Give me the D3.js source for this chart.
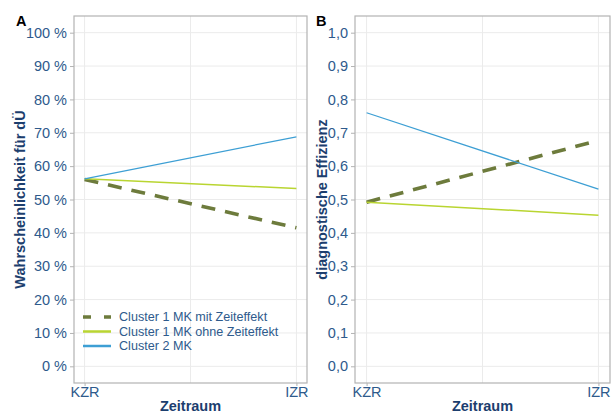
<!DOCTYPE html>
<html><head><meta charset="utf-8">
<script src="https://cdn.jsdelivr.net/npm/d3@7"></script>
<style>body{margin:0;background:#fff}svg{display:block;font-family:"Liberation Sans",Arial,sans-serif}</style>
</head><body><svg id="c" width="615" height="419"></svg>
<script>
const periods = ["KZR", "IZR"];
const seriesNames = ["Cluster 1 MK mit Zeiteffekt", "Cluster 1 MK ohne Zeiteffekt", "Cluster 2 MK"];
const probMit = [0.560, 0.415];
const probOhne = [0.562, 0.533];
const probC2 = [0.562, 0.688];
const effMit = [0.492, 0.677];
const effOhne = [0.492, 0.453];
const effC2 = [0.760, 0.531];
const yTicks = [0, 0.1, 0.2, 0.3, 0.4, 0.5, 0.6, 0.7, 0.8, 0.9, 1.0];

const colors = ["#6d7b3c", "#b9d531", "#3d9fd4"];
const widths = [3.6, 1.5, 1.3];
const dashes = ["14,10", null, null];

const svg = d3.select("#c");
const tickCol = "#2e5a8c", titleCol = "#1c3e6e";

function panel(opt) {
  const {x0, x1, y0, y1, series, fmt, ytitle, ytitleX, label, labelX} = opt;
  const x = d3.scaleLinear().domain([0.95, 2.05]).range([x0, x1]);
  const y = d3.scaleLinear().domain([-0.05, 1.05]).range([y1, y0]);
  const g = svg.append("g");
  g.selectAll(".gy").data(yTicks).join("line")
    .attr("x1", x0).attr("x2", x1).attr("y1", d => y(d)).attr("y2", d => y(d))
    .attr("stroke", "#ebebeb").attr("stroke-width", 1);
  g.selectAll(".gx").data([1, 1.5, 2]).join("line")
    .attr("y1", y0).attr("y2", y1).attr("x1", d => x(d)).attr("x2", d => x(d))
    .attr("stroke", "#ebebeb").attr("stroke-width", 1);
  const line = d3.line().x((d, i) => x(i + 1)).y(d => y(d));
  series.forEach((s, k) => {
    g.append("path").attr("d", line(s)).attr("fill", "none")
      .attr("stroke", colors[k]).attr("stroke-width", widths[k])
      .attr("stroke-dasharray", dashes[k]);
  });
  g.append("rect").attr("x", x0).attr("y", y0).attr("width", x1 - x0).attr("height", y1 - y0)
    .attr("fill", "none").attr("stroke", "#b3b3b3").attr("stroke-width", 1.2);
  const ya = g.append("g").attr("transform", `translate(${x0},0)`)
    .call(d3.axisLeft(y).tickValues(yTicks).tickFormat(fmt).tickSize(4).tickPadding(3));
  ya.select(".domain").remove();
  ya.selectAll("line").attr("stroke", "#b3b3b3");
  ya.selectAll("text").attr("fill", tickCol).attr("font-size", 14.5);
  const xa = g.append("g").attr("transform", `translate(0,${y1})`)
    .call(d3.axisBottom(x).tickValues([1, 2]).tickFormat((d, i) => periods[i]).tickSize(3).tickPadding(1));
  xa.select(".domain").remove();
  xa.selectAll("line").attr("stroke", "#b3b3b3");
  xa.selectAll("text").attr("fill", tickCol).attr("font-size", 14.5);
  g.append("text").attr("x", (x0 + x1) / 2).attr("y", 411).attr("text-anchor", "middle")
    .attr("font-weight", "bold").attr("font-size", 14.5).attr("fill", titleCol).text("Zeitraum");
  g.append("text").attr("transform", `translate(${ytitleX},${(y0 + y1) / 2}) rotate(-90)`)
    .attr("text-anchor", "middle").attr("font-weight", "bold").attr("font-size", 14.5)
    .attr("fill", titleCol).text(ytitle);
  g.append("text").attr("x", labelX).attr("y", 26).attr("font-weight", "bold")
    .attr("font-size", 14.5).attr("fill", "#000").text(label);
  return {x, y, g};
}

panel({x0: 74, x1: 307, y0: 16, y1: 383, series: [probMit, probOhne, probC2],
  fmt: d => Math.round(d * 100) + " %", ytitle: "Wahrscheinlichkeit für dÜ", ytitleX: 25,
  label: "A", labelX: 16});
panel({x0: 355, x1: 610, y0: 16, y1: 383, series: [effMit, effOhne, effC2],
  fmt: d => d3.format(".1f")(d).replace(".", ","), ytitle: "diagnostische Effizienz", ytitleX: 327,
  label: "B", labelX: 316});

const leg = svg.append("g").attr("transform", "translate(83,317)");
seriesNames.forEach((n, k) => {
  const r = leg.append("g").attr("transform", `translate(0,${k * 14.5})`);
  r.append("line").attr("x1", 0).attr("x2", 28).attr("y1", 0).attr("y2", 0)
    .attr("stroke", colors[k]).attr("stroke-width", k === 0 ? 3.6 : 2.5)
    .attr("stroke-dasharray", k === 0 ? "8,13" : null);
  r.append("text").attr("x", 36).attr("y", 0).attr("dy", "0.35em")
    .attr("font-size", 12.6).attr("fill", tickCol).text(n);
});
</script></body></html>
